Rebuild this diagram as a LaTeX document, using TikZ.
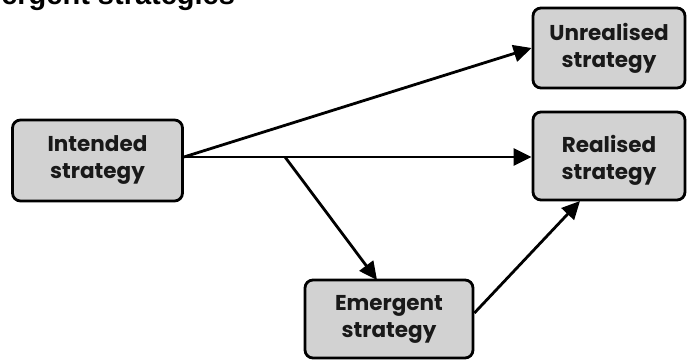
\documentclass[tikz,border=0pt]{standalone}
\usepackage{fontspec}
\setmainfont{Liberation Sans}
\newfontfamily\boxfont{Poppins}
\usetikzlibrary{arrows.meta}
\begin{document}
\begin{tikzpicture}[x=1pt,y=-1pt,
  boxtext/.style={text=black!90, font=\boxfont\bfseries\fontsize{21.5}{27}\selectfont,
    align=center, inner sep=0pt},
  stratbox/.style={boxtext, draw=black, line width=2.8pt, rounded corners=8pt,
    fill=gray!35},
  flow/.style={line width=2.8pt, -{Triangle[length=18pt,width=17pt]}}]
  \clip (0,0) rectangle (689,361);
  \fill[white] (0,0) rectangle (689,361);
  % heading
  \node[anchor=base west, inner sep=0pt, font=\bfseries\fontsize{29}{34}\selectfont] (title) at (-44,5) {Emergent strategies};
  % strategy boxes
  \node[stratbox, minimum width=170pt, minimum height=81pt] (int) at (97.5,160.5) {Intended\\strategy};
  \node[stratbox, minimum width=152pt, minimum height=80pt] (unr) at (609,48) {Unrealised\\strategy};
  \node[stratbox, minimum width=152pt, minimum height=88pt] (rea) at (609,156) {};
  \node[boxtext] (realabel) at ([yshift=-4pt]rea.center) {Realised\\strategy};
  \node[stratbox, minimum width=168pt, minimum height=78pt] (eme) at (389,319) {Emergent\\strategy};
  % connectors
  \coordinate (split) at (285,157);
  \draw[flow] (int.east |- 0,157) -- (unr.west);
  \draw[flow] (int.east |- 0,157) -- (rea.west |- 0,157);
  \draw[flow] (split) -- (377,280);
  \draw[flow] (eme.east |- 0,313) -- (580,201);
\end{tikzpicture}
\end{document}
